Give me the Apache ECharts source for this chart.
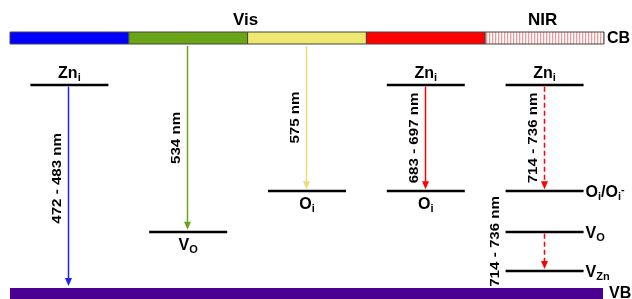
<!DOCTYPE html>
<html>
<head>
<meta charset="utf-8">
<script src="https://cdn.jsdelivr.net/npm/echarts@6/dist/echarts.min.js"></script>
<style>
  html, body { margin: 0; padding: 0; background: #fff; }
  #chart { width: 632px; height: 299px; }
</style>
</head>
<body>
<div id="chart"></div>
<script>
// energies in eV above the valence band
const bandGap = 3.3;
const bandSegments = [0, 1, 2, 3, 4];           // CB cut into spectral columns
const regionNames = ['Vis', 'NIR'];
const regionStart = [0, 4];
const regionEnd = [4, 5];

// defect levels
const levelNames = ['Zn_i', 'V_O', 'O_i', 'Zn_i', 'O_i', 'Zn_i', 'O_i/O_i^-', 'V_O', 'V_Zn'];
const levelCols = [0, 1, 2, 3, 3, 4, 4, 4, 4];
const levelEnergy = [2.75, 0.76, 1.31, 2.75, 1.31, 2.75, 1.31, 0.76, 0.23];

// emission transitions
const transCols = [0, 1, 2, 3, 4, 4];
const transFrom = [2.75, 3.3, 3.3, 2.75, 2.75, 0.76];
const transTo = [0, 0.76, 1.31, 1.31, 1.31, 0.23];
const transLabels = ['472 - 483 nm', '534 nm', '575 nm', '683 - 697 nm', '714 - 736 nm', '714 - 736 nm'];

const FONT = "'Liberation Sans', Arial, sans-serif";
const bandColors = ['#0000ff', '#6aa518', '#eee870', '#ff0000', null];
const arrowColors = ['#1e1eff', '#6aa518', '#e6df78', '#ff0000', '#ff0000'];
const HALF = 39; // half width of a level line, px

// hatch for the NIR part
const hatch = document.createElement('canvas');
hatch.width = 3; hatch.height = 2;
(function () {
  const g = hatch.getContext('2d');
  g.fillStyle = '#fff'; g.fillRect(0, 0, 3, 2);
  g.fillStyle = '#f09a9a'; g.fillRect(0, 0, 1, 2);
  g.fillStyle = '#fbe0e0'; g.fillRect(1, 0, 1, 2);
})();

const rich = {
  n: { fontSize: 16, fontWeight: 'bold', fontFamily: FONT, lineHeight: 18, color: '#000' },
  s: { fontSize: 11, fontWeight: 'bold', fontFamily: FONT, lineHeight: 8, verticalAlign: 'bottom', color: '#000' },
  p: { fontSize: 11, fontWeight: 'bold', fontFamily: FONT, lineHeight: 8, verticalAlign: 'top', color: '#000' }
};

// 'O_i/O_i^-' -> rich text
function toRich(name) {
  let out = '';
  name.replace(/_(\w+)|\^(\S)|([^_^]+)/g, function (m, sub, sup, txt) {
    if (sub) out += '{s|' + sub + '}';
    else if (sup) out += '{p|' + sup + '}';
    else out += '{n|' + txt + '}';
  });
  return out;
}

function textEl(x, y, text, align, valign, size, extra) {
  return Object.assign({
    type: 'text', x: x, y: y,
    style: {
      text: text, fill: '#000', fontSize: size || 16, fontWeight: 'bold', fontFamily: FONT,
      align: align, verticalAlign: valign, textAlign: align, textVerticalAlign: valign
    }
  }, extra || {});
}

const chart = echarts.init(document.getElementById('chart'));

const option = {
  animation: false,
  grid: { left: 10, right: 28, top: 44, bottom: 11 },
  xAxis: { type: 'value', min: 0, max: 5, show: false },
  yAxis: { type: 'value', min: 0, max: bandGap, show: false },
  series: [
    {
      // conduction band strip
      type: 'custom', clip: false,
      data: bandSegments.map(i => [i, bandGap]),
      renderItem(params, api) {
        const i = api.value(0);
        const a = api.coord([i, api.value(1)]);
        const b = api.coord([i + 1, api.value(1)]);
        const col = bandColors[i];
        const kids = [{
          type: 'rect',
          shape: { x: a[0], y: a[1] - 12, width: b[0] - a[0], height: 12 },
          style: { fill: col ? col : { image: hatch, repeat: 'repeat' }, stroke: '#444', lineWidth: 1 }
        }];
        if (i === bandSegments.length - 1) {
          kids.push(textEl(b[0] + 3, a[1] - 5, 'CB', 'left', 'middle'));
        }
        return { type: 'group', children: kids };
      }
    },
    {
      // valence band
      type: 'custom', clip: false,
      data: [[0, 0]],
      renderItem(params, api) {
        const a = api.coord([0, 0]);
        const b = api.coord([5, 0]);
        return {
          type: 'group', children: [
            { type: 'rect', shape: { x: a[0], y: a[1], width: b[0] - a[0] - 1, height: 12 }, style: { fill: '#4b0091' } },
            textEl(b[0] + 5, a[1] + 6, 'VB', 'left', 'middle')
          ]
        };
      }
    },
    {
      // spectral region titles
      type: 'custom', clip: false,
      data: regionNames.map((n, i) => [regionStart[i], regionEnd[i], bandGap]),
      renderItem(params, api) {
        const a = api.coord([(api.value(0) + api.value(1)) / 2, api.value(2)]);
        return textEl(a[0] - 2, a[1] - 15, regionNames[params.dataIndex], 'center', 'bottom', 17);
      }
    },
    {
      // defect levels
      type: 'custom', clip: false,
      data: levelNames.map((n, i) => [levelCols[i] + 0.5, levelEnergy[i]]),
      renderItem(params, api) {
        const c = api.coord([api.value(0), api.value(1)]);
        const col = levelCols[params.dataIndex];
        const e = api.value(1);
        const y = Math.round(c[1]);
        let tx = c[0], ty = y + 5, al = 'center', va = 'top';
        if (e > 2) { ty = y - 2; va = 'bottom'; }
        else if (col === 4) { tx = c[0] + HALF + 2; ty = y + 2; al = 'left'; va = 'middle'; }
        const t = textEl(tx, ty, toRich(levelNames[params.dataIndex]), al, va);
        t.style.rich = rich;
        return {
          type: 'group', children: [
            { type: 'line', shape: { x1: c[0] - HALF, y1: y, x2: c[0] + HALF, y2: y }, style: { stroke: '#000', lineWidth: 2.5 } },
            t
          ]
        };
      }
    },
    {
      // transitions
      type: 'custom', clip: false,
      data: transLabels.map((l, i) => [transCols[i] + 0.5, transFrom[i], transTo[i]]),
      renderItem(params, api) {
        const i = params.dataIndex;
        const col = transCols[i];
        const a = api.coord([api.value(0), api.value(1)]);
        const b = api.coord([api.value(0), api.value(2)]);
        const x = Math.round(a[0]) - 0.5;
        const y1 = a[1] + 2, y2 = b[1] - 2;
        const color = arrowColors[col];
        const dashed = col === 4;
        let lx = x - 11, ly = (y1 + y2) / 2;
        if (i === 0) ly -= 8;
        if (i === transLabels.length - 1) { lx = x - HALF - 10; ly -= 10; }
        return {
          type: 'group', children: [
            { type: 'line', shape: { x1: x, y1: y1, x2: x, y2: y2 - 6 },
              style: { stroke: color, lineWidth: 1.5, lineDash: dashed ? [5, 3] : null } },
            { type: 'polygon', shape: { points: [[x - 3.5, y2 - 8], [x + 3.5, y2 - 8], [x, y2]] }, style: { fill: color } },
            textEl(lx, ly, transLabels[i], 'center', 'middle', 13.5,
              { rotation: Math.PI / 2, scaleX: 1.12 })
          ]
        };
      }
    }
  ]
};

chart.setOption(option);
</script>
</body>
</html>
